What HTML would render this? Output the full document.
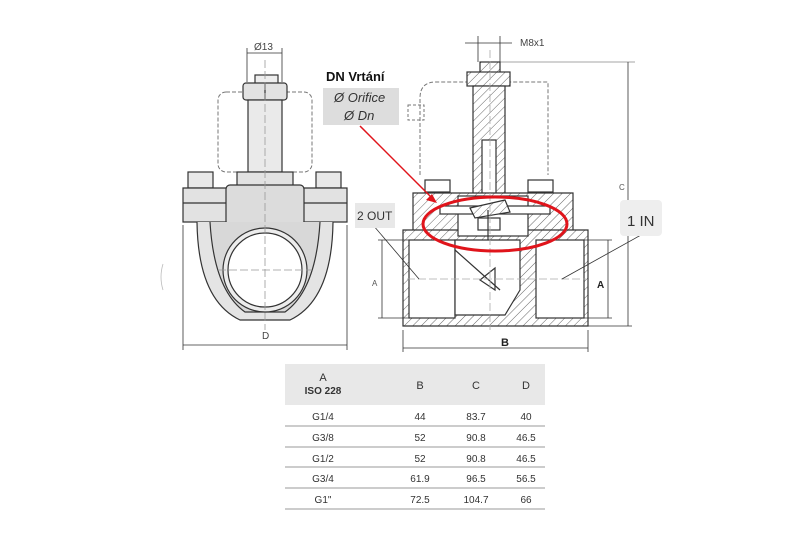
<!DOCTYPE html>
<html><head><meta charset="utf-8"><style>
html,body{margin:0;padding:0;background:#fff;}
svg{display:block;font-family:"Liberation Sans",sans-serif;}
</style></head><body>
<svg width="800" height="544" viewBox="0 0 800 544" xmlns="http://www.w3.org/2000/svg">
<defs>
<pattern id="h" width="6" height="6" patternUnits="userSpaceOnUse" patternTransform="rotate(45)">
<rect width="6" height="6" fill="#fff"/><line x1="0" y1="0" x2="0" y2="6" stroke="#555" stroke-width="0.9"/>
</pattern>
</defs>
<g stroke="#333" stroke-width="1.2" fill="none">
<!-- LEFT VIEW -->
<text x="254" y="50" font-size="10" fill="#444" stroke="none">Ø13</text>
<line x1="247" y1="53" x2="282" y2="53" stroke-width="0.8"/><line x1="247" y1="48" x2="247" y2="82" stroke-width="0.8"/><line x1="282" y1="48" x2="282" y2="82" stroke-width="0.8"/>
<rect x="218" y="92" width="94" height="80" rx="8" stroke-dasharray="4,2" stroke="#777" stroke-width="1"/>
<rect x="255" y="75" width="23" height="9" fill="#eee"/>
<rect x="243" y="83" width="44" height="17" rx="3" fill="#e2e2e2"/>
<line x1="265" y1="83" x2="265" y2="100"/>
<rect x="248" y="100" width="34" height="72" fill="#eaeaea"/>
<rect x="237" y="172" width="56" height="14" fill="#e2e2e2"/>
<rect x="188" y="172" width="25" height="16" fill="#e8e8e8"/><rect x="316" y="172" width="25" height="16" fill="#e8e8e8"/>
<path d="M183 188 H347 V222 H183 Z" fill="#e2e2e2"/>
<line x1="183" y1="203" x2="347" y2="203"/>
<rect x="226" y="185" width="78" height="40" rx="4" fill="#dcdcdc"/>
<path d="M197 222 Q198 300 240 320 H290 Q332 300 333 222" fill="#e4e4e4"/>
<path d="M210 222 Q214 290 245 312 H285 Q316 290 320 222" fill="#d8d8d8"/>
<circle cx="265" cy="270" r="42" fill="#ececec"/>
<circle cx="265" cy="270" r="37" fill="#fff"/>
<line x1="265" y1="60" x2="265" y2="330" stroke-dasharray="8,3" stroke="#999" stroke-width="0.8"/>
<line x1="218" y1="270" x2="312" y2="270" stroke-dasharray="8,3" stroke="#999" stroke-width="0.8"/>
<line x1="183" y1="345" x2="347" y2="345" stroke-width="0.8"/><line x1="183" y1="225" x2="183" y2="350" stroke-width="0.8"/><line x1="347" y1="225" x2="347" y2="350" stroke-width="0.8"/>
<text x="262" y="339" font-size="10" fill="#444" stroke="none">D</text>
<path d="M163 264 Q159 277 163 290" stroke="#bbb" stroke-width="0.8"/>

<!-- RIGHT VIEW -->
<g stroke-width="0.8"><line x1="478" y1="36" x2="478" y2="62"/><line x1="500" y1="36" x2="500" y2="62"/>
<line x1="465" y1="43" x2="512" y2="43"/></g>
<text x="520" y="46" font-size="10" fill="#444" stroke="none">M8x1</text>
<line x1="500" y1="62" x2="635" y2="62" stroke="#888" stroke-width="0.8"/>
<path d="M420 175 V98 Q420 82 436 82 H548 V175" stroke-dasharray="4,2" stroke="#777" stroke-width="1"/>
<rect x="408" y="105" width="16" height="15" stroke-dasharray="3,2" stroke="#777" stroke-width="1"/>
<rect x="480" y="62" width="20" height="14" fill="url(#h)"/>
<rect x="467" y="72" width="43" height="14" fill="url(#h)"/>
<rect x="473" y="86" width="32" height="110" fill="url(#h)"/>
<rect x="482" y="140" width="14" height="65" fill="#fff"/>
<rect x="425" y="180" width="25" height="12" fill="#fff"/><rect x="528" y="180" width="25" height="12" fill="#fff"/>
<path d="M413 193 H573 V232 H413 Z" fill="url(#h)"/>
<path d="M403 230 H588 V326 H403 Z" fill="url(#h)"/>
<rect x="409" y="240" width="46" height="78" fill="#fff"/>
<rect x="536" y="240" width="48" height="78" fill="#fff"/>
<path d="M455 240 H520 V290 L505 315 H455 Z" fill="#fff"/>
<rect x="458" y="196" width="70" height="40" fill="#fff"/>
<rect x="440" y="206" width="110" height="8" fill="#fff"/>
<rect x="478" y="218" width="22" height="12" fill="#fff"/>
<path d="M470 208 L505 200 L510 212 L475 218 Z" fill="url(#h)"/>
<line x1="488" y1="210" x2="488" y2="240"/>
<path d="M480 280 L495 268 L495 290 Z" fill="#fff"/>
<line x1="455" y1="250" x2="500" y2="290"/>
<line x1="490" y1="50" x2="490" y2="330" stroke-dasharray="8,3" stroke="#aaa" stroke-width="0.8"/>
<line x1="407" y1="279" x2="586" y2="279" stroke-dasharray="8,3" stroke="#aaa" stroke-width="0.8"/>
<g stroke-width="0.8">
<line x1="382" y1="240" x2="382" y2="318"/><line x1="378" y1="240" x2="409" y2="240"/><line x1="378" y1="318" x2="409" y2="318"/>
<line x1="608" y1="240" x2="608" y2="318"/><line x1="584" y1="240" x2="612" y2="240"/><line x1="584" y1="318" x2="612" y2="318"/>
<line x1="628" y1="62" x2="628" y2="326"/><line x1="588" y1="326" x2="632" y2="326"/>
<line x1="403" y1="330" x2="403" y2="352"/><line x1="588" y1="330" x2="588" y2="352"/>
<line x1="403" y1="348" x2="588" y2="348"/>
<line x1="373" y1="225" x2="419" y2="279"/>
<line x1="641" y1="235" x2="562" y2="279"/>
</g>
<text x="372" y="286" font-size="8" fill="#555" stroke="none">A</text>
<text x="597" y="288" font-size="10" font-weight="bold" fill="#222" stroke="none">A</text>
<text x="619" y="190" font-size="8" fill="#555" stroke="none">C</text>
<text x="501" y="346" font-size="11" font-weight="bold" fill="#222" stroke="none">B</text>
</g>
<!-- labels -->
<rect x="323" y="88" width="76" height="37" fill="#ddd"/>
<text x="326" y="81" font-size="13" font-weight="bold" fill="#111">DN  Vrtání</text>
<text x="334" y="102" font-size="13" font-style="italic" fill="#333">Ø Orifice</text>
<text x="344" y="120" font-size="13" font-style="italic" fill="#333">Ø Dn</text>
<rect x="355" y="203" width="40" height="25" fill="#e8e8e8"/>
<text x="357" y="220" font-size="12" fill="#333">2 OUT</text>
<rect x="620" y="200" width="42" height="36" rx="4" fill="#eee"/>
<text x="627" y="226" font-size="15" fill="#333">1 IN</text>
<ellipse cx="495" cy="224" rx="72" ry="27" fill="none" stroke="#e0141b" stroke-width="3"/>
<line x1="360" y1="126" x2="434" y2="200" stroke="#e0141b" stroke-width="1.5"/>
<path d="M437 203 L426 200 L432 194 Z" fill="#e0141b"/>
<!-- table -->
<g font-size="10" fill="#333" text-anchor="middle">
<rect x="285" y="364" width="260" height="41" fill="#e8e8e8"/>
<text x="323" y="381" font-size="11">A</text>
<text x="323" y="394" font-weight="bold">ISO 228</text>
<text x="420" y="389" font-size="11">B</text><text x="476" y="389" font-size="11">C</text><text x="526" y="389" font-size="11">D</text>
<g stroke="#bbb" stroke-width="1.5"><line x1="285" y1="426" x2="545" y2="426"/><line x1="285" y1="447" x2="545" y2="447"/><line x1="285" y1="467" x2="545" y2="467"/><line x1="285" y1="488" x2="545" y2="488"/><line x1="285" y1="509" x2="545" y2="509"/></g>
<text x="323" y="420">G1/4</text><text x="420" y="420">44</text><text x="476" y="420">83.7</text><text x="526" y="420">40</text>
<text x="323" y="441">G3/8</text><text x="420" y="441">52</text><text x="476" y="441">90.8</text><text x="526" y="441">46.5</text>
<text x="323" y="462">G1/2</text><text x="420" y="462">52</text><text x="476" y="462">90.8</text><text x="526" y="462">46.5</text>
<text x="323" y="482">G3/4</text><text x="420" y="482">61.9</text><text x="476" y="482">96.5</text><text x="526" y="482">56.5</text>
<text x="323" y="503">G1"</text><text x="420" y="503">72.5</text><text x="476" y="503">104.7</text><text x="526" y="503">66</text>
</g>
</svg>
</body></html>
